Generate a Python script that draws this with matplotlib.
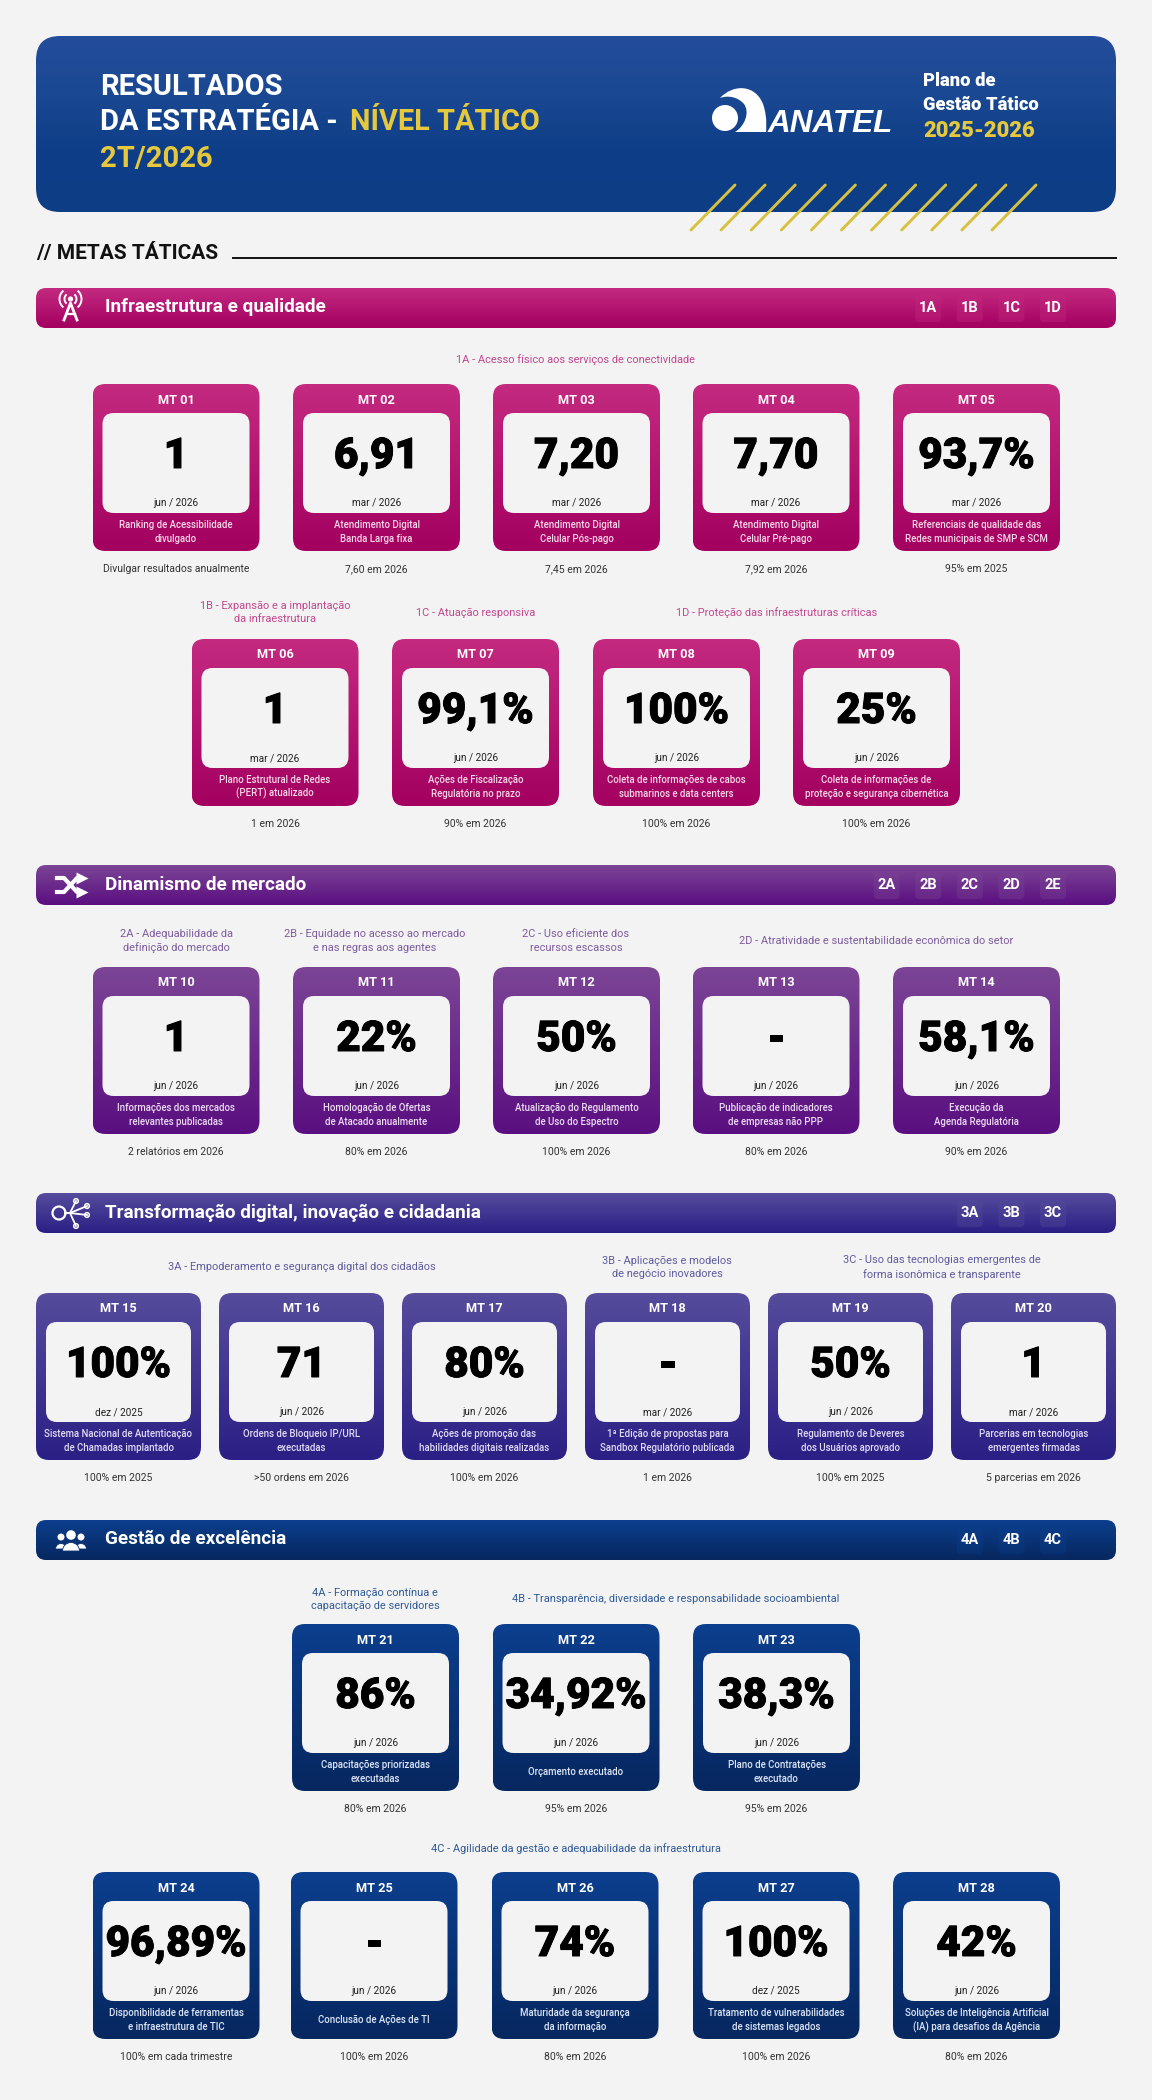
#!/usr/bin/env python3
"""Resultados da estrategia - nivel tatico, 2T/2026: painel de metas taticas."""
import numpy as np
import matplotlib
matplotlib.use("Agg")
import matplotlib.pyplot as plt
import matplotlib.patheffects as pe
from matplotlib.colors import LinearSegmentedColormap
from matplotlib.patches import Arc, Circle, FancyBboxPatch, PathPatch, Wedge
from matplotlib.path import Path

plt.rcParams["font.family"] = ["Roboto", "DejaVu Sans"]

# --- data -------------------------------------------------------------------
title_lines = ["RESULTADOS", "DA ESTRATÉGIA - ", "NÍVEL TÁTICO", "2T/2026"]
plan_lines = ["Plano de", "Gestão Tático", "2025-2026"]

mt_ids = [f"MT {i:02d}" for i in range(1, 29)]
values = ["1", "6,91", "7,20", "7,70", "93,7%", "1", "99,1%", "100%", "25%",
          "1", "22%", "50%", "-", "58,1%",
          "100%", "71", "80%", "-", "50%", "1",
          "86%", "34,92%", "38,3%", "96,89%", "-", "74%", "100%", "42%"]
dates = ["jun / 2026", "mar / 2026", "mar / 2026", "mar / 2026", "mar / 2026",
         "mar / 2026", "jun / 2026", "jun / 2026", "jun / 2026",
         "jun / 2026", "jun / 2026", "jun / 2026", "jun / 2026", "jun / 2026",
         "dez / 2025", "jun / 2026", "jun / 2026", "mar / 2026", "jun / 2026", "mar / 2026",
         "jun / 2026", "jun / 2026", "jun / 2026",
         "jun / 2026", "jun / 2026", "jun / 2026", "dez / 2025", "jun / 2026"]
descs = ["Ranking de Acessibilidade\ndivulgado", "Atendimento Digital\nBanda Larga fixa",
         "Atendimento Digital\nCelular Pós-pago", "Atendimento Digital\nCelular Pré-pago",
         "Referenciais de qualidade das\nRedes municipais de SMP e SCM",
         "Plano Estrutural de Redes\n(PERT) atualizado", "Ações de Fiscalização\nRegulatória no prazo",
         "Coleta de informações de cabos\nsubmarinos e data centers",
         "Coleta de informações de\nproteção e segurança cibernética",
         "Informações dos mercados\nrelevantes publicadas", "Homologação de Ofertas\nde Atacado anualmente",
         "Atualização do Regulamento\nde Uso do Espectro", "Publicação de indicadores\nde empresas não PPP",
         "Execução da\nAgenda Regulatória",
         "Sistema Nacional de Autenticação\nde Chamadas implantado", "Ordens de Bloqueio IP/URL\nexecutadas",
         "Ações de promoção das\nhabilidades digitais realizadas",
         "1ª Edição de propostas para\nSandbox Regulatório publicada",
         "Regulamento de Deveres\ndos Usuários aprovado", "Parcerias em tecnologias\nemergentes firmadas",
         "Capacitações priorizadas\nexecutadas", "Orçamento executado", "Plano de Contratações\nexecutado",
         "Disponibilidade de ferramentas\ne infraestrutura de TIC", "Conclusão de Ações de TI",
         "Maturidade da segurança\nda informação", "Tratamento de vulnerabilidades\nde sistemas legados",
         "Soluções de Inteligência Artificial\n(IA) para desafios da Agência"]
goals = ["Divulgar resultados anualmente", "7,60 em 2026", "7,45 em 2026", "7,92 em 2026", "95% em 2025",
         "1 em 2026", "90% em 2026", "100% em 2026", "100% em 2026",
         "2 relatórios em 2026", "80% em 2026", "100% em 2026", "80% em 2026", "90% em 2026",
         "100% em 2025", ">50 ordens em 2026", "100% em 2026", "1 em 2026", "100% em 2025", "5 parcerias em 2026",
         "80% em 2026", "95% em 2026", "95% em 2026",
         "100% em cada trimestre", "100% em 2026", "80% em 2026", "100% em 2026", "80% em 2026"]

section_names = ["Infraestrutura e qualidade", "Dinamismo de mercado",
                 "Transformação digital, inovação e cidadania", "Gestão de excelência"]
section_badges = [["1A", "1B", "1C", "1D"], ["2A", "2B", "2C", "2D", "2E"],
                  ["3A", "3B", "3C"], ["4A", "4B", "4C"]]
subtitles = [["1A - Acesso físico aos serviços de conectividade",
              "1B - Expansão e a implantação\nda infraestrutura", "1C - Atuação responsiva",
              "1D - Proteção das infraestruturas críticas"],
             ["2A - Adequabilidade da\ndefinição do mercado",
              "2B - Equidade no acesso ao mercado\ne nas regras aos agentes",
              "2C - Uso eficiente dos\nrecursos escassos",
              "2D - Atratividade e sustentabilidade econômica do setor"],
             ["3A - Empoderamento e segurança digital dos cidadãos",
              "3B - Aplicações e modelos\nde negócio inovadores",
              "3C - Uso das tecnologias emergentes de\nforma isonômica e transparente"],
             ["4A - Formação contínua e\ncapacitação de servidores",
              "4B - Transparência, diversidade e responsabilidade socioambiental",
              "4C - Agilidade da gestão e adequabilidade da infraestrutura"]]

# --- layout and style -------------------------------------------------------
BG = "#f3f3f3"
YELLOW = "#e6c83c"
section_style = [
    dict(top="#c42a80", bot="#a30060", sub="#c2478f", text="#f6d9e8"),
    dict(top="#7c4596", bot="#5a0f80", sub="#7d5c9e", text="#ecdcf3"),
    dict(top="#564c9c", bot="#2b1f85", sub="#5f5c9e", text="#e0dcf5"),
    dict(top="#0c3f8e", bot="#07275f", sub="#2f5a96", text="#dde6f6"),
]
section_y = [288, 865, 1193, 1520]
x5 = [92.5, 293, 493, 692.5, 893]
# (top of row, card left edges, card width, section, first card index)
rows = [(384, x5, 167, 0, 0),
        (639, [191.5, 392, 593, 793], 167, 0, 5),
        (967, x5, 167, 1, 9),
        (1293, [36, 219, 402, 585, 768, 951], 165, 2, 14),
        (1624, [292, 492.5, 693], 167, 3, 20),
        (1872, [92.5, 290.5, 491.5, 692.5, 893], 167, 3, 23)]
# centre of each subtitle, same order as the subtitle lists
subtitle_xy = [[(576, 360), (275, 612.5), (476, 613), (777, 613)],
               [(176, 941), (375, 941), (576, 941), (876, 941)],
               [(302, 1267), (667, 1267.5), (942, 1267.5)],
               [(375, 1599.5), (676, 1599), (576, 1849)]]

fig = plt.figure(figsize=(11.52, 21), dpi=100, facecolor=BG)
ax = fig.add_axes([0, 0, 1, 1])
ax.set_xlim(0, 1152)
ax.set_ylim(2100, 0)
ax.axis("off")
ax.set_autoscale_on(False)


def rounded(x, y, w, h, r, **kw):
    return FancyBboxPatch((x, y), w, h, boxstyle=f"round,pad=0,rounding_size={r}", **kw)


def gradient_box(x, y, w, h, r, colors, z=2):
    cmap = LinearSegmentedColormap.from_list("g", colors)
    im = ax.imshow(np.linspace(0, 1, 256)[:, None], cmap=cmap, aspect="auto",
                   extent=(x, x + w, y + h, y), zorder=z, interpolation="bilinear")
    patch = rounded(x, y, w, h, r, fc="none", ec="none", zorder=z)
    ax.add_patch(patch)
    im.set_clip_path(patch)


# --- header -----------------------------------------------------------------
gradient_box(36, 36, 1080, 176, 24, ["#244d9c", "#1a4892", "#0e3e87", "#0d3d85"])
ax.text(100, 87, title_lines[0], color="white", fontsize=21, fontweight="bold", va="center", zorder=5)
ax.text(100, 122, title_lines[1], color="white", fontsize=21, fontweight="bold", va="center", zorder=5)
ax.text(350, 122, title_lines[2], color=YELLOW, fontsize=20.8, fontweight="bold", va="center", zorder=5)
ax.text(100, 159, title_lines[3], color=YELLOW, fontsize=21, fontweight="bold", va="center", zorder=5)

# logo
ax.add_patch(Circle((725, 118), 13, fc="white", ec="none", zorder=5))
crescent = Path([(720, 98), (733, 84), (755, 84), (763, 104), (768, 118), (766, 132), (766, 132),
                 (735, 132), (745, 126), (750, 112), (744, 104), (738, 97), (728, 95), (720, 98)],
                [Path.MOVETO, Path.CURVE4, Path.CURVE4, Path.CURVE4, Path.CURVE4, Path.CURVE4, Path.CURVE4,
                 Path.LINETO, Path.CURVE4, Path.CURVE4, Path.CURVE4, Path.CURVE4, Path.CURVE4, Path.CURVE4])
ax.add_patch(PathPatch(crescent, fc="white", ec="none", zorder=5))
ax.text(768, 132, "ANATEL", color="white", fontsize=22.7, fontweight="bold", fontstyle="italic",
        family=["Liberation Sans", "DejaVu Sans"], va="baseline", zorder=5)

for line, y, col, size in zip(plan_lines, [81, 105, 131], ["white", "white", YELLOW], [13.2, 13.2, 15.8]):
    ax.text(923, y, line, color=col, fontsize=size, fontweight=900, va="center", zorder=5)

for i in range(11):
    ax.plot([691 + 30.1 * i, 735 + 30.1 * i], [230, 185], color="#d8c040", lw=2.1,
            solid_capstyle="round", zorder=6)

# --- section title ----------------------------------------------------------
ax.text(36, 253, "// METAS TÁTICAS", color="#111111", fontsize=15, fontweight="bold", va="center", zorder=5)
ax.plot([233, 1116], [258, 258], color="#111111", lw=1.4, zorder=5)

# --- section bars -----------------------------------------------------------
for name, badges, y, st in zip(section_names, section_badges, section_y, section_style):
    gradient_box(36, y, 1080, 40, 10, [st["top"], st["bot"]])
    ax.text(105, y + 19.5, name, color="white", fontsize=13.6, fontweight="bold", va="center", zorder=5)
    for j, b in enumerate(reversed(badges)):
        cx = 1053 - 41.6 * j
        ax.add_patch(rounded(cx - 13, y + 7, 26, 27, 4, fc=st["top"], ec="none", alpha=0.35, zorder=4))
        ax.text(cx, y + 20, b, color="white", fontsize=10.5, fontweight="bold", ha="center", va="center", zorder=5)

# --- section icons ----------------------------------------------------------
# tower
ax.plot([64, 70.5, 77], [320, 303, 320], color="white", lw=2, zorder=5)
ax.plot([66.5, 74.5], [314, 314], color="white", lw=1.6, zorder=5)
ax.add_patch(Circle((70.5, 299), 2.6, fc="white", ec="none", zorder=5))
for r in (6, 11):
    ax.add_patch(Arc((70.5, 299), 2 * r, 2 * r, theta1=130, theta2=230, color="white", lw=1.4, zorder=5))
    ax.add_patch(Arc((70.5, 299), 2 * r, 2 * r, theta1=-50, theta2=50, color="white", lw=1.4, zorder=5))
# shuffle
ax.plot([57, 64, 77, 81], [878, 878, 892, 892], color="white", lw=3, zorder=5)
ax.plot([57, 64, 77, 81], [892, 892, 878, 878], color="white", lw=3, zorder=5)
ax.plot([82, 82], [878, 892], ls="none", marker=">", ms=8.5, color="white", mec="none", zorder=5)
# network
ax.add_patch(Circle((59, 1213), 6.5, fc="none", ec="white", lw=1.6, zorder=5))
for px, py in [(76, 1201), (87, 1206), (87, 1215), (76, 1226)]:
    ax.plot([65, 70, px], [1213, 1213, py], color="white", lw=1.3, zorder=5)
    ax.add_patch(Circle((px, py), 2.3, fc="none", ec="white", lw=1.1, zorder=6))
# people
for cx, cy, r, br, by in [(61, 1537, 3.5, 5.5, 1549), (81, 1537, 3.5, 5.5, 1549), (71, 1535, 4.8, 8.5, 1551)]:
    ax.add_patch(Circle((cx, cy), r, fc="white", ec="none", zorder=5))
    ax.add_patch(Wedge((cx, by), br, 180, 360, fc="white", ec="#0a2f70", lw=0.6, zorder=5))

# --- subtitles --------------------------------------------------------------
for subs, xys, st in zip(subtitles, subtitle_xy, section_style):
    for s, (x, y) in zip(subs, xys):
        ax.text(x, y, s, color=st["sub"], fontsize=7.9, ha="center", va="center", linespacing=1.4, zorder=5)

# --- cards ------------------------------------------------------------------
heavy = [pe.withStroke(linewidth=0.7, foreground="black")]
for y0, xs, w, sec, first in rows:
    st = section_style[sec]
    for k, x0 in enumerate(xs):
        i = first + k
        cx = x0 + w / 2
        gradient_box(x0, y0, w, 167, 13, [st["top"], st["bot"]])
        ax.add_patch(rounded(x0 + 10, y0 + 29, w - 20, 100, 11, fc="#f3f3f3", ec="none", zorder=3))
        ax.text(cx, y0 + 16, mt_ids[i], color="white", fontsize=9.2, fontweight="bold",
                ha="center", va="center", zorder=5)
        ax.text(cx, y0 + 84, values[i], color="black", fontsize=30.5, fontweight=900,
                ha="center", va="baseline", zorder=5, path_effects=heavy)
        ax.text(cx, y0 + 119, dates[i], color="#222222", fontsize=7.2, ha="center", va="center", zorder=5)
        ax.text(cx, y0 + 148, descs[i], color=st["text"], fontsize=6.9, fontweight="medium",
                ha="center", va="center", linespacing=1.4, zorder=5)
        ax.text(cx, y0 + 185, goals[i], color="#333333", fontsize=7.5, ha="center", va="center", zorder=5)

fig.savefig("out.png", dpi=100, facecolor=BG)
